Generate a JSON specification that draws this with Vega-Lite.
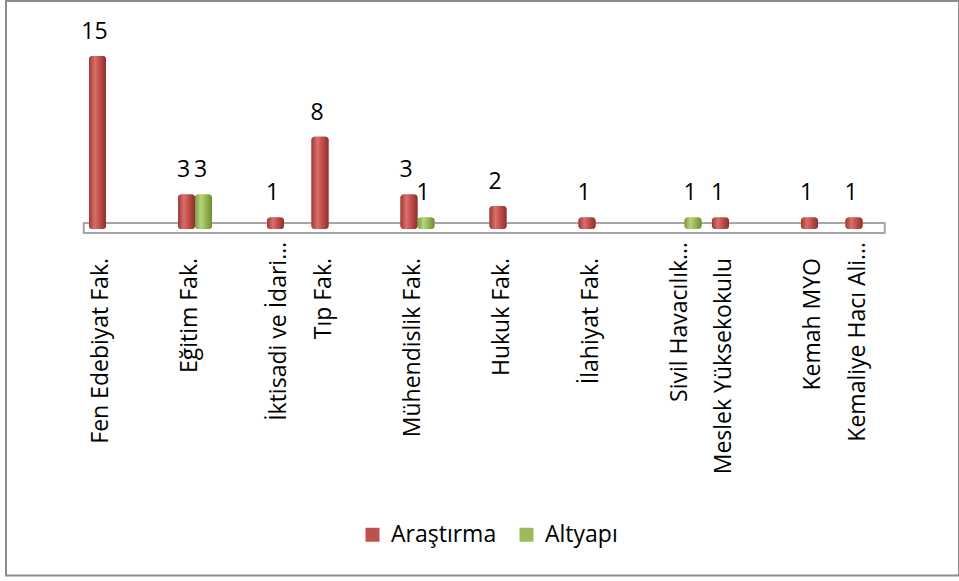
{
  "$schema": "https://vega.github.io/schema/vega-lite/v6.json",
  "width": 953,
  "height": 574.5,
  "autosize": {"type": "none"},
  "padding": {"left": 6, "top": 1, "right": 0, "bottom": 5.5},
  "background": "white",
  "config": {
    "view": {"stroke": "#8c8c8c", "strokeWidth": 2},
    "font": "Open Sans"
  },
  "data": {
    "values": [
      {"unit": "Fen Edebiyat Fak.", "type": "Araştırma", "count": 15},
      {"unit": "Eğitim Fak.", "type": "Araştırma", "count": 3},
      {"unit": "Eğitim Fak.", "type": "Altyapı", "count": 3},
      {"unit": "İktisadi ve İdari…", "type": "Araştırma", "count": 1},
      {"unit": "Tıp Fak.", "type": "Araştırma", "count": 8},
      {"unit": "Mühendislik Fak.", "type": "Araştırma", "count": 3},
      {"unit": "Mühendislik Fak.", "type": "Altyapı", "count": 1},
      {"unit": "Hukuk Fak.", "type": "Araştırma", "count": 2},
      {"unit": "İlahiyat Fak.", "type": "Araştırma", "count": 1},
      {"unit": "Sivil Havacılık…", "type": "Altyapı", "count": 1},
      {"unit": "Meslek Yüksekokulu", "type": "Araştırma", "count": 1},
      {"unit": "Kemah MYO", "type": "Araştırma", "count": 1},
      {"unit": "Kemaliye Hacı Ali…", "type": "Araştırma", "count": 1}
    ]
  },
  "encoding": {
    "x": {
      "field": "unit",
      "type": "nominal",
      "axis": null,
      "scale": {
        "domain": ["Fen Edebiyat Fak.", "_b1", "Eğitim Fak.", "_b2", "İktisadi ve İdari…", "Tıp Fak.", "_b3", "Mühendislik Fak.", "_b4", "Hukuk Fak.", "_b5", "İlahiyat Fak.", "_b6", "Sivil Havacılık…", "Meslek Yüksekokulu", "_b7", "Kemah MYO", "Kemaliye Hacı Ali…"],
        "range": [77.75, 878.75],
        "paddingInner": 0,
        "paddingOuter": 0
      }
    }
  },
  "layer": [
    {
      "data": {"values": [{}]},
      "mark": {"type": "rect", "fill": "white", "stroke": "#a6a6a6", "strokeWidth": 2},
      "encoding": {
        "x": {"datum": "Fen Edebiyat Fak.", "bandPosition": 0, "type": "nominal"},
        "x2": {"datum": "Kemaliye Hacı Ali…", "bandPosition": 1},
        "y": {"datum": -0.35, "type": "quantitative", "scale": {"domain": [-30.05, 19.77], "nice": false, "zero": false}, "axis": null},
        "y2": {"datum": 0.52}
      }
    },
    {
      "mark": {"type": "bar", "cornerRadius": 3},
      "encoding": {
        "xOffset": {"field": "type", "type": "nominal", "scale": {"domain": ["Araştırma", "Altyapı"], "paddingInner": 0, "paddingOuter": 0.309}},
        "y": {"field": "count", "type": "quantitative", "axis": null},
        "y2": {"datum": 0},
        "color": {
          "field": "type",
          "type": "nominal",
          "scale": {"domain": ["Araştırma", "Altyapı"], "range": ["#C0504D", "#9BBB59"]},
          "legend": {
            "orient": "none",
            "legendX": 355,
            "legendY": 522,
            "direction": "horizontal",
            "title": null,
            "symbolType": "square",
            "symbolSize": 196,
            "symbolStrokeWidth": 0,
            "labelFontSize": 23,
            "labelFont": "Open Sans",
            "labelColor": "#000000",
            "columnPadding": 18,
            "labelOffset": 7
          }
        }
      }
    },
    {
      "mark": {"type": "bar", "cornerRadius": 3},
      "encoding": {
        "xOffset": {"field": "type", "type": "nominal"},
        "y": {"field": "count", "type": "quantitative"},
        "y2": {"datum": 0},
        "fill": {
          "condition": {
            "test": "datum.type === 'Altyapı'",
            "value": {"gradient": "linear", "x1": 0, "x2": 1, "y1": 0, "y2": 0, "stops": [
              {"offset": 0, "color": "#7d9a43"},
              {"offset": 0.35, "color": "#b6d57a"},
              {"offset": 0.6, "color": "#9bbb59"},
              {"offset": 1, "color": "#6e8a38"}
            ]}
          },
          "value": {"gradient": "linear", "x1": 0, "x2": 1, "y1": 0, "y2": 0, "stops": [
            {"offset": 0, "color": "#a03834"},
            {"offset": 0.35, "color": "#d8706c"},
            {"offset": 0.6, "color": "#c4504c"},
            {"offset": 1, "color": "#8e302d"}
          ]}
        }
      }
    },
    {
      "mark": {"type": "text", "fontSize": 23, "font": "Open Sans", "color": "#000000", "baseline": "alphabetic", "dy": -17, "dx": -3},
      "encoding": {
        "xOffset": {"field": "type", "type": "nominal"},
        "y": {"field": "count", "type": "quantitative"},
        "text": {"field": "count", "type": "quantitative"}
      }
    },
    {
      "transform": [
        {"aggregate": [{"op": "count", "as": "n"}], "groupby": ["unit"]},
        {"filter": "indexof(datum.unit, '…') < 0"}
      ],
      "mark": {"type": "text", "fontSize": 23, "font": "Open Sans", "color": "#000000", "angle": 270, "align": "right", "baseline": "middle", "dx": -29, "dy": -5},
      "encoding": {
        "y": {"datum": 0, "type": "quantitative"},
        "text": {"field": "unit", "type": "nominal"}
      }
    },
    {
      "transform": [
        {"aggregate": [{"op": "count", "as": "n"}], "groupby": ["unit"]},
        {"filter": "indexof(datum.unit, '…') >= 0"}
      ],
      "mark": {"type": "text", "fontSize": 23, "font": "Open Sans", "color": "#000000", "angle": 270, "align": "right", "baseline": "middle", "dx": -13, "dy": -5},
      "encoding": {
        "y": {"datum": 0, "type": "quantitative"},
        "text": {"field": "unit", "type": "nominal"}
      }
    }
  ]
}
